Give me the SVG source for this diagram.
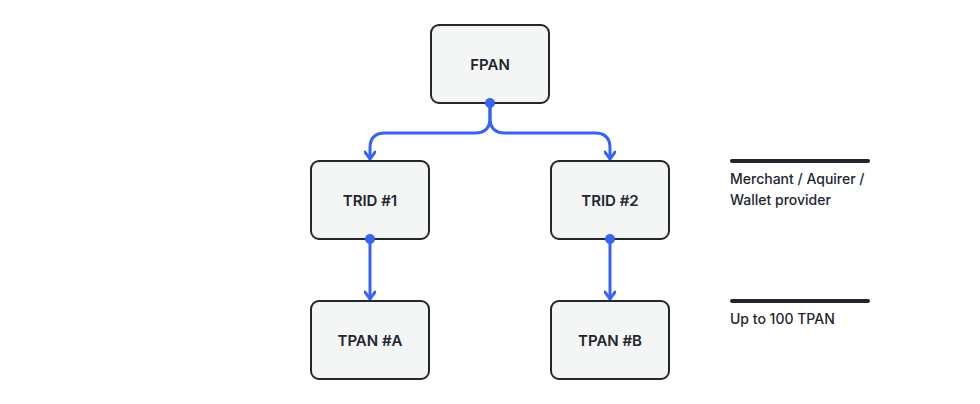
<svg xmlns="http://www.w3.org/2000/svg" width="980" height="404" viewBox="0 0 980 404">
<style>
.node rect{fill:#f4f5f5;stroke:#23262f;stroke-width:2}
.node text{font-family:Inter,"Liberation Sans",sans-serif;font-size:15px;font-weight:600;fill:#23262f;text-anchor:middle;dominant-baseline:central}
.edge{fill:none;stroke:#3763f4;stroke-width:3;stroke-linecap:round;stroke-linejoin:round}
.dot{fill:#3763f4}
.legend line{stroke:#23262f;stroke-width:4;stroke-linecap:round}
.legend text{font-family:Inter,"Liberation Sans",sans-serif;font-size:14px;font-weight:500;fill:#23262f}
</style>
<defs>
<marker id="arr" viewBox="0 0 12 12" refX="10" refY="6" markerWidth="12" markerHeight="12" markerUnits="userSpaceOnUse" orient="auto">
<path d="M3,1 L10,6 L3,11" fill="none" stroke="#3763f4" stroke-width="3" stroke-linecap="round" stroke-linejoin="round"/>
</marker>
</defs>
<rect width="980" height="404" fill="#ffffff"/>
<g id="connectors">
<path class="edge" d="M490,103 V118 Q490,133 475,133 H385 Q370,133 370,148 V159" marker-end="url(#arr)"/>
<path class="edge" d="M490,103 V118 Q490,133 505,133 H595 Q610,133 610,148 V159" marker-end="url(#arr)"/>
<path class="edge" d="M370,239 V299" marker-end="url(#arr)"/>
<path class="edge" d="M610,239 V299" marker-end="url(#arr)"/>
</g>
<g id="fpan" class="node"><rect x="431" y="25" width="118" height="78" rx="8"/><text x="490" y="64">FPAN</text></g>
<g id="trid1" class="node"><rect x="311" y="161" width="118" height="78" rx="8"/><text x="370" y="200">TRID #1</text></g>
<g id="trid2" class="node"><rect x="551" y="161" width="118" height="78" rx="8"/><text x="610" y="200">TRID #2</text></g>
<g id="tpanA" class="node"><rect x="311" y="301" width="118" height="78" rx="8"/><text x="370" y="340">TPAN #A</text></g>
<g id="tpanB" class="node"><rect x="551" y="301" width="118" height="78" rx="8"/><text x="610" y="340">TPAN #B</text></g>
<g id="connector-dots">
<circle class="dot" cx="490" cy="103" r="5"/>
<circle class="dot" cx="370" cy="239" r="5"/>
<circle class="dot" cx="610" cy="239" r="5"/>
</g>
<g id="legend1" class="legend"><line x1="732" y1="161" x2="868" y2="161"/><text x="730" y="184">Merchant / Aquirer /</text><text x="730" y="205">Wallet provider</text></g>
<g id="legend2" class="legend"><line x1="732" y1="301" x2="868" y2="301"/><text x="730" y="324">Up to 100 TPAN</text></g>
</svg>
